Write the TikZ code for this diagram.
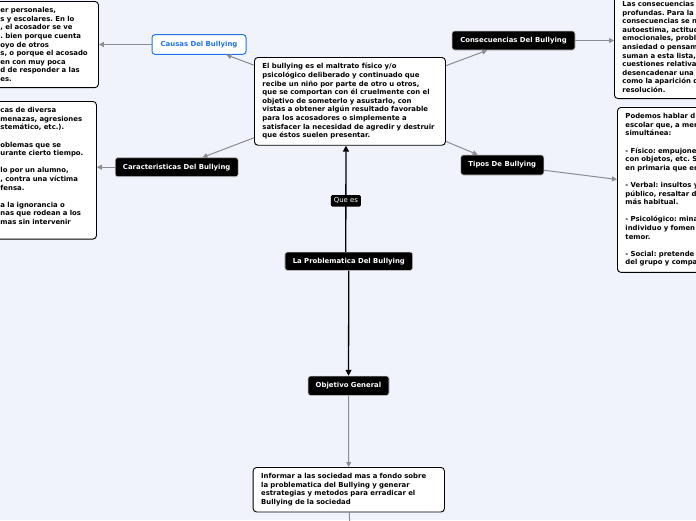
\documentclass[tikz,border=0pt]{standalone}
\usepackage{fontspec}
\setmainfont{DejaVu Sans}
\usetikzlibrary{arrows.meta}
\definecolor{bg}{RGB}{240,243,252}
\definecolor{conngray}{RGB}{140,140,146}
\definecolor{causeblue}{RGB}{30,115,232}
\frenchspacing
\begin{document}
\begin{tikzpicture}[x=1pt,y=-1pt,
  basefont/.style={font=\fontsize{6.9}{8.6}\selectfont\bfseries},
  topic/.style={basefont, fill=black, draw=gray!45, line width=0.6pt, rounded corners=2.5pt, text=white, inner sep=0pt, align=center},
  causebox/.style={basefont, fill=white, draw=causeblue, line width=1pt, rounded corners=3pt, text=causeblue, inner sep=0pt, align=center},
  textbox/.style={basefont, fill=white, draw=black, line width=0.9pt, rounded corners=3.5pt, inner xsep=8pt, inner ysep=6pt, align=left},
  quelabel/.style={font=\fontsize{6.9}{8.6}\selectfont, fill=black, text=white, rounded corners=1.5pt, inner sep=0pt, minimum width=30pt, minimum height=11.6pt},
  conn/.style={draw=conngray, line width=1pt, -{Triangle[length=5pt,width=5pt]}},
  plainconn/.style={draw=conngray, line width=1pt},
  mainconn/.style={draw=black, line width=1.3pt, -{Triangle[length=6pt,width=6pt]}}
]
\useasboundingbox (0,0) rectangle (696,520);
\fill[bg] (0,0) rectangle (696,520);
\clip (0,0) rectangle (696,520);

% text boxes
\node[textbox, anchor=north west, text width=90pt] (box1) at (-8,1)
  {er personales,\\ s y escolares. En lo\\ , el acosador se ve\\ . bien porque cuenta\\ oyo de otros\\ s, o porque el acosado\\ en con muy poca\\ d de responder a las\\ es.};
\node[textbox, anchor=north west, text width=88pt] (box2) at (-8,101)
  {cas de diversa\\ menazas, agresiones\\ stemático, etc.).\\ \mbox{}\\ oblemas que se\\ urante cierto tiempo.\\ \mbox{}\\ lo por un alumno,\\ , contra una víctima\\ fensa.\\ \mbox{}\\ a la ignorancia o\\ nas que rodean a los\\ mas sin intervenir\\ \mbox{}};
\node[textbox, anchor=north west, text width=175pt] (central) at (254,57)
  {El bullying es el maltrato físico y/o\\ psicológico deliberado y continuado que\\ recibe un niño por parte de otro u otros,\\ que se comportan con él cruelmente con el\\ objetivo de someterlo y asustarlo, con\\ vistas a obtener algún resultado favorable\\ para los acosadores o simplemente a\\ satisfacer la necesidad de agredir y destruir\\ que éstos suelen presentar.};
\node[textbox, anchor=south west, text width=150pt] (box3) at (614,99)
  {Las consecuencias\\ profundas. Para la\\ consecuencias se n\\ autoestima, actitud\\ emocionales, probl\\ ansiedad o pensam\\ suman a esta lista,\\ cuestiones relativa\\ desencadenar una\\ como la aparición d\\ resolución.};
\node[textbox, anchor=north west, text width=150pt] (box4) at (617,107)
  {Podemos hablar d\\ escolar que, a men\\ simultánea:\\ \mbox{}\\ - Físico: empujone\\ con objetos, etc. S\\ en primaria que en\\ \mbox{}\\ - Verbal: insultos y\\ público, resaltar d\\ más habitual.\\ \mbox{}\\ - Psicológico: mina\\ individuo y fomen\\ temor.\\ \mbox{}\\ - Social: pretende\\ del grupo y compa};
\node[textbox, anchor=north west, text width=175.3pt] (box5) at (252.7,467)
  {Informar a las sociedad mas a fondo sobre\\ la problematica del Bullying y generar\\ estrategias y metodos para erradicar el\\ Bullying de la sociedad};

% topic nodes
\node[causebox, minimum width=94pt, minimum height=19.6pt] (causas) at (199,44.5) {Causas Del Bullying};
\node[topic, minimum width=123pt, minimum height=19pt] (cons) at (513.5,40.5) {Consecuencias Del Bullying};
\node[topic, minimum width=83pt, minimum height=20pt] (tipos) at (502.3,165) {Tipos De Bullying};
\node[topic, minimum width=123pt, minimum height=19pt] (caract) at (176.7,167.2) {Caracteristicas Del Bullying};
\node[topic, minimum width=127.7pt, minimum height=18.3pt] (prob) at (348.8,261.2) {La Problematica Del Bullying};
\node[topic, minimum width=81pt, minimum height=19.3pt] (obj) at (348.5,385.7) {Objetivo General};
\coordinate (below) at (350,540);

% connectors
\draw[conn] (central) -- (causas);
\draw[conn] (central) -- (cons);
\draw[conn] (central) -- (tipos);
\draw[conn] (central) -- (caract);
\draw[conn] (causas) -- (causas -| box1.east);
\draw[conn] (cons) -- (cons -| box3.west);
\draw[conn] (tipos) -- (box4);
\draw[conn] (caract) -- (caract -| box2.east);
\draw[mainconn] ([xshift=-3pt]prob.north) -- node[quelabel, pos=0.48] (quees) {Que es} ([xshift=-4pt]central.south);
\draw[mainconn] (prob) -- (obj);
\draw[conn] (obj) -- (box5);
\draw[plainconn] (box5) -- (below);
\end{tikzpicture}
\end{document}
